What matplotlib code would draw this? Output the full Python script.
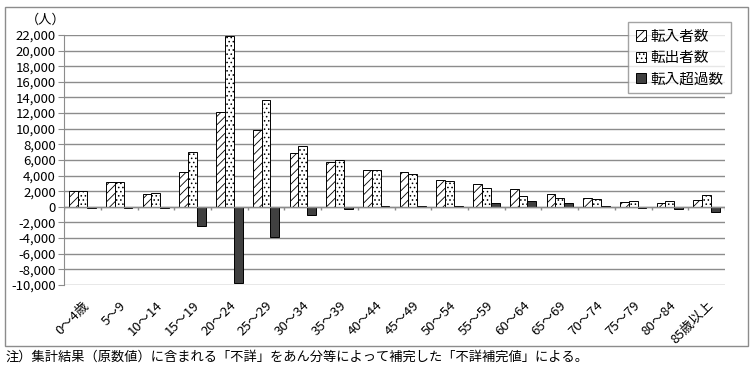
import matplotlib.pyplot as plt
import matplotlib.patches as mpatches
import numpy as np

plt.rcParams["font.family"] = ["Noto Sans CJK JP", "DejaVu Sans"]
plt.rcParams["hatch.linewidth"] = 0.6

age_groups = ["0～4歳", "5～9", "10～14", "15～19", "20～24", "25～29", "30～34",
              "35～39", "40～44", "45～49", "50～54", "55～59", "60～64", "65～69",
              "70～74", "75～79", "80～84", "85歳以上"]
tennyu = [2050, 3200, 1700, 4450, 12100, 9800, 6850, 5800, 4700, 4450, 3400,
          2900, 2250, 1600, 1100, 600, 450, 850]
tenshutsu = [2050, 3200, 1800, 7000, 21900, 13650, 7850, 5950, 4700, 4250, 3250,
             2350, 1450, 1100, 950, 750, 750, 1500]
chouka = [-150, -100, -100, -2500, -9800, -3900, -1050, -250, 50, 150, 100,
          550, 800, 500, 150, -150, -300, -650]

fig = plt.figure(figsize=(7.54, 3.72), dpi=100)
ax = fig.add_axes([0.085, 0.234, 0.8765, 0.672])

x = np.arange(len(age_groups))
w = 0.24
ax.bar(x - w, tennyu, w, color="white", edgecolor="black", hatch="////", lw=0.7, label="転入者数")
ax.bar(x, tenshutsu, w, color="white", edgecolor="black", hatch="....", lw=0.7, label="転出者数")
ax.bar(x + w, chouka, w, color="#404040", edgecolor="black", lw=0.7, label="転入超過数")

ax.set_xlim(-0.5, len(age_groups) - 0.5)
ax.set_ylim(-10000, 22000)
ax.set_yticks(range(-10000, 22001, 2000))
ax.set_yticklabels([f"{v:,}" for v in range(-10000, 22001, 2000)], fontsize=9.5)
ax.yaxis.grid(True, color="#8c8c8c", lw=1)
ax.set_axisbelow(True)
ax.axhline(0, color="#8c8c8c", lw=1, zorder=1)
ax.vlines(np.arange(len(age_groups) + 1) - 0.5, -350, 0, color="#8c8c8c", lw=1)

ax.set_xticks(x)
ax.set_xticklabels(age_groups, rotation=45, ha="right", rotation_mode="anchor", fontsize=9.5)
ax.tick_params(axis="x", length=0, pad=10)
ax.tick_params(axis="y", length=4, color="#8c8c8c", pad=2)
for s in ["top", "right", "bottom"]:
    ax.spines[s].set_visible(False)
ax.spines["left"].set_color("#8c8c8c")

fig.text(0.06, 0.945, "（人）", fontsize=9.5, ha="center", va="center")

handles = [
    mpatches.Patch(facecolor="white", edgecolor="black", hatch="////", lw=0.7, label="転入者数"),
    mpatches.Patch(facecolor="white", edgecolor="black", hatch="....", lw=0.7, label="転出者数"),
    mpatches.Patch(facecolor="#404040", edgecolor="black", lw=0.7, label="転入超過数"),
]
leg = fig.legend(handles=handles, loc="upper right", bbox_to_anchor=(0.969, 0.94),
                 fontsize=10.5, frameon=True, fancybox=False, edgecolor="#8c8c8c",
                 handlelength=0.7, handleheight=0.7, handletextpad=0.3,
                 labelspacing=0.5, borderpad=0.5, borderaxespad=0)
leg.get_frame().set_linewidth(1)

fig.patches.append(mpatches.Rectangle((0.007, 0.07), 0.985, 0.91, transform=fig.transFigure,
                                      fill=False, edgecolor="#8c8c8c", lw=1))
fig.text(0.007, 0.04, "注）集計結果（原数値）に含まれる「不詳」をあん分等によって補完した「不詳補完値」による。",
         fontsize=9.5, ha="left", va="center")

fig.savefig("out.png", dpi=100)
